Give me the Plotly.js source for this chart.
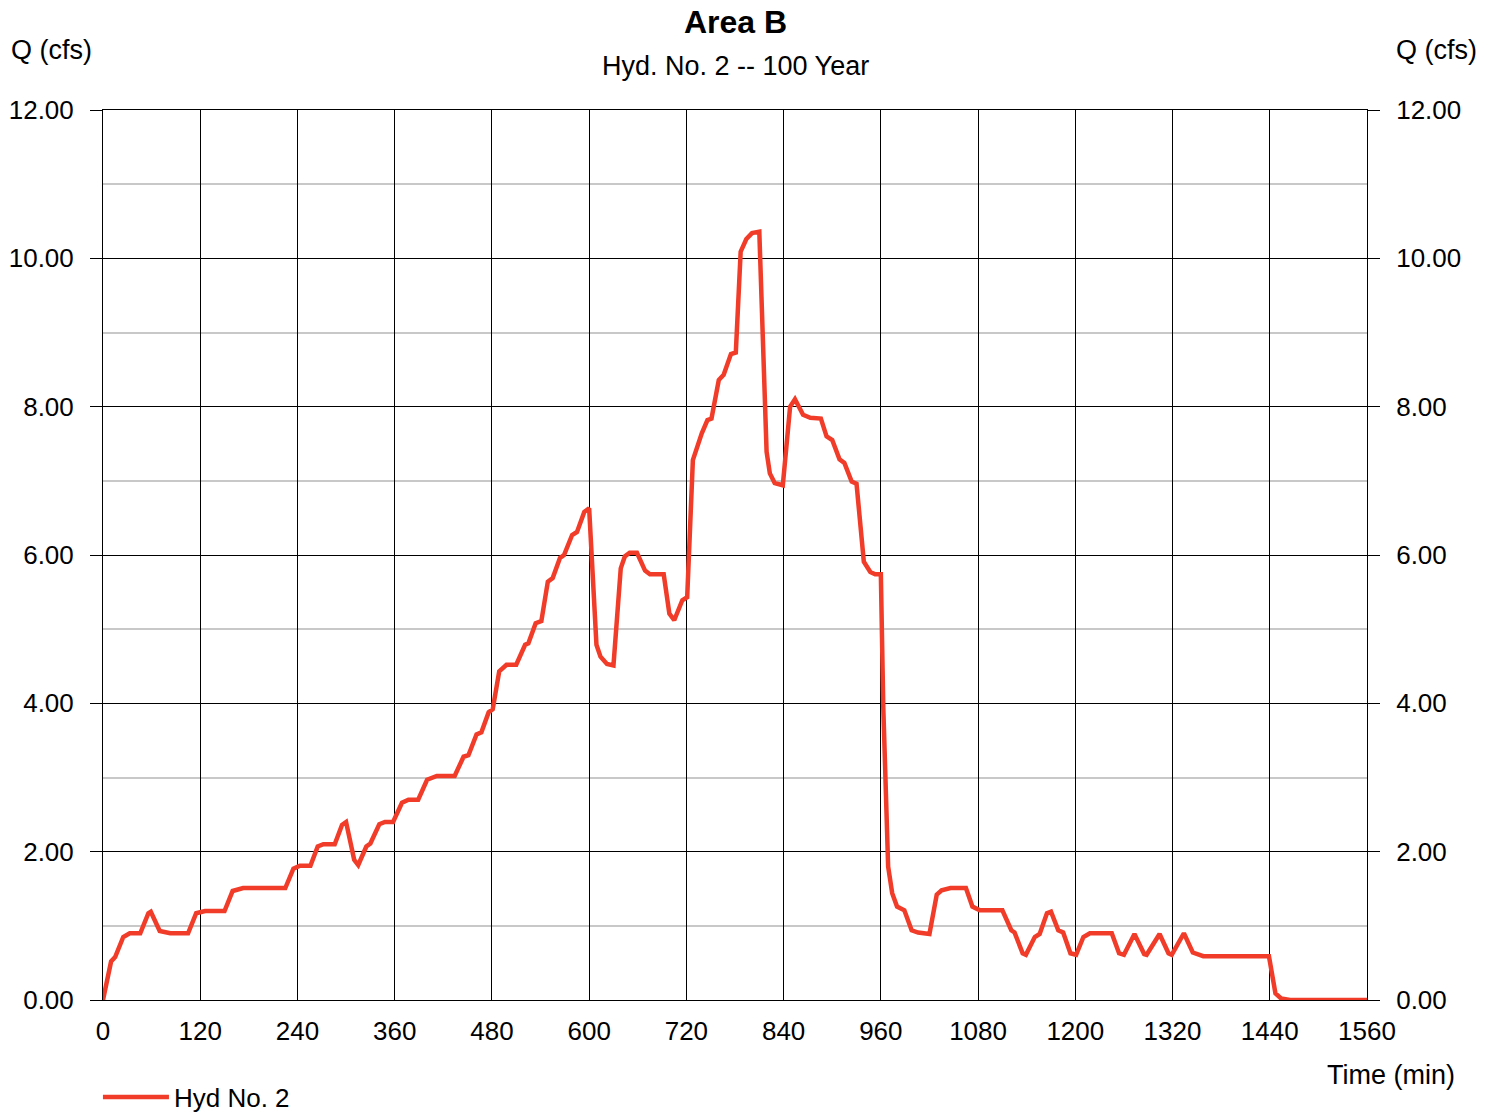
<!DOCTYPE html>
<html>
<head>
<meta charset="utf-8">
<script src="https://cdn.plot.ly/plotly-3.0.1.min.js"></script>
<style>html,body{margin:0;padding:0;background:#fff;}#chart{width:1497px;height:1112px;}</style>
</head>
<body>
<div id="chart"></div>
<script>
const timeMin = [0, 10, 15, 25, 33, 46, 56, 59, 70, 83, 105, 115, 126, 150, 160, 173, 225, 235, 243, 256, 265, 272, 286, 295, 300, 310, 315, 325, 330, 341, 348, 358, 369, 377, 389, 400, 412, 434, 445, 451, 461, 467, 476, 481, 489, 498, 510, 521, 525, 534, 541, 549, 555, 564, 569, 579, 585, 594, 600, 609, 614, 622, 630, 639, 644, 650, 659, 669, 675, 692, 699, 705, 715, 721, 728, 739, 746, 751, 760, 766, 775, 781, 787, 794, 801, 810, 819, 823, 829, 839, 848, 854, 864, 873, 886, 893, 900, 909, 915, 924, 930, 936, 939, 947, 953, 960, 963, 969, 974, 980, 989, 998, 1006, 1020, 1029, 1035, 1046, 1065, 1073, 1082, 1110, 1121, 1125, 1135, 1139, 1150, 1156, 1165, 1170, 1179, 1185, 1194, 1201, 1210, 1218, 1245, 1254, 1260, 1273, 1285, 1288, 1304, 1315, 1319, 1334, 1345, 1358, 1439, 1447, 1454, 1465, 1560];
const flowCfs = [0, 0.52, 0.58, 0.85, 0.9, 0.9, 1.17, 1.19, 0.93, 0.9, 0.9, 1.17, 1.2, 1.2, 1.47, 1.51, 1.51, 1.77, 1.81, 1.81, 2.07, 2.1, 2.1, 2.36, 2.4, 1.89, 1.82, 2.07, 2.11, 2.37, 2.4, 2.4, 2.66, 2.7, 2.7, 2.97, 3.02, 3.02, 3.28, 3.3, 3.58, 3.61, 3.88, 3.92, 4.43, 4.52, 4.52, 4.79, 4.81, 5.08, 5.11, 5.64, 5.69, 5.96, 6.0, 6.27, 6.31, 6.58, 6.63, 4.79, 4.63, 4.53, 4.51, 5.82, 5.98, 6.03, 6.03, 5.79, 5.74, 5.74, 5.21, 5.12, 5.39, 5.43, 7.28, 7.64, 7.82, 7.84, 8.36, 8.43, 8.71, 8.73, 10.09, 10.26, 10.34, 10.36, 7.39, 7.1, 6.97, 6.94, 8.0, 8.1, 7.89, 7.85, 7.84, 7.6, 7.55, 7.29, 7.24, 6.99, 6.96, 6.34, 5.91, 5.77, 5.74, 5.74, 3.95, 1.8, 1.44, 1.26, 1.21, 0.94, 0.91, 0.89, 1.42, 1.48, 1.51, 1.51, 1.26, 1.21, 1.21, 0.94, 0.91, 0.63, 0.61, 0.85, 0.89, 1.17, 1.19, 0.94, 0.91, 0.63, 0.61, 0.85, 0.9, 0.9, 0.63, 0.61, 0.89, 0.62, 0.61, 0.89, 0.63, 0.61, 0.9, 0.64, 0.59, 0.59, 0.09, 0.02, 0, 0];
const xTickVals = [0, 120, 240, 360, 480, 600, 720, 840, 960, 1080, 1200, 1320, 1440, 1560];
const yTickVals = [0, 2, 4, 6, 8, 10, 12];
const yTickText = ["0.00", "2.00", "4.00", "6.00", "8.00", "10.00", "12.00"];
const yMinorVals = [1, 3, 5, 7, 9, 11];
const seriesName = "Hyd No. 2";
const chartTitle = "Area B";
const chartSubtitle = "Hyd. No. 2 -- 100 Year";
const yLabel = "Q (cfs)";
const xLabel = "Time (min)";

const FONT = "Liberation Sans, Arial, sans-serif";
const lineColor = "#F03C28";

const traces = [
  {x: timeMin, y: flowCfs, type: "scatter", mode: "lines", name: seriesName,
   line: {color: lineColor, width: 4.5}, xaxis: "x", yaxis: "y"},
  {x: timeMin, y: flowCfs, type: "scatter", mode: "lines", showlegend: false, hoverinfo: "skip",
   line: {color: "rgba(0,0,0,0)", width: 0}, xaxis: "x", yaxis: "y2"}
];

const yCommon = {
  range: [0, 12], tickvals: yTickVals, ticktext: yTickText, ticks: "outside", ticklen: 12,
  tickcolor: "#000", tickwidth: 1, showgrid: true, gridcolor: "#000", gridwidth: 1,
  zeroline: false, showline: true, linecolor: "#000", linewidth: 1,
  tickfont: {family: FONT, size: 26, color: "#000"},
  ticklabelstandoff: 11, fixedrange: true, automargin: false
};

const layout = {
  width: 1497, height: 1112,
  margin: {l: 103, r: 130, t: 110, b: 112, pad: 0, autoexpand: false},
  paper_bgcolor: "#fff", plot_bgcolor: "#fff",
  font: {family: FONT, color: "#000"},
  showlegend: true,
  legend: {x: -0.004, xanchor: "left", xref: "paper", y: 0.0135, yref: "container", yanchor: "middle",
           orientation: "h", font: {family: FONT, size: 26, color: "#000"},
           bgcolor: "rgba(0,0,0,0)", itemwidth: 66},
  xaxis: {range: [0, 1560], tickvals: xTickVals, ticks: "", showgrid: true, gridcolor: "#000",
          gridwidth: 1, zeroline: false, showline: true, mirror: true, linecolor: "#000", linewidth: 1,
          tickfont: {family: FONT, size: 26, color: "#000"}, ticklabelstandoff: 8, fixedrange: true,
          automargin: false},
  yaxis: Object.assign({}, yCommon, {
    side: "left",
    minor: {tickvals: yMinorVals, showgrid: true, gridcolor: "#c8c8c8", gridwidth: 2, ticks: ""}
  }),
  yaxis2: Object.assign({}, yCommon, {side: "right", overlaying: "y", showgrid: false}),
  annotations: [
    {text: "<b>" + chartTitle + "</b>", xref: "paper", yref: "paper", x: 0.5, y: 1, xanchor: "center",
     yanchor: "middle", yshift: 88, showarrow: false, font: {family: FONT, size: 32, color: "#000"}},
    {text: chartSubtitle, xref: "paper", yref: "paper", x: 0.5, y: 1, xanchor: "center",
     yanchor: "middle", yshift: 44, showarrow: false, font: {family: FONT, size: 27, color: "#000"}},
    {text: yLabel, xref: "paper", yref: "paper", x: 0, y: 1, xanchor: "left", xshift: -94,
     yanchor: "middle", yshift: 60, showarrow: false, font: {family: FONT, size: 27, color: "#000"}},
    {text: yLabel, xref: "paper", yref: "paper", x: 1, y: 1, xanchor: "right", xshift: 112,
     yanchor: "middle", yshift: 60, showarrow: false, font: {family: FONT, size: 27, color: "#000"}},
    {text: xLabel, xref: "paper", yref: "paper", x: 1, y: 0, xanchor: "right", xshift: 90,
     yanchor: "middle", yshift: -75, showarrow: false, font: {family: FONT, size: 27, color: "#000"}}
  ]
};

Plotly.newPlot("chart", traces, layout, {displayModeBar: false, staticPlot: true});
</script>
</body>
</html>
